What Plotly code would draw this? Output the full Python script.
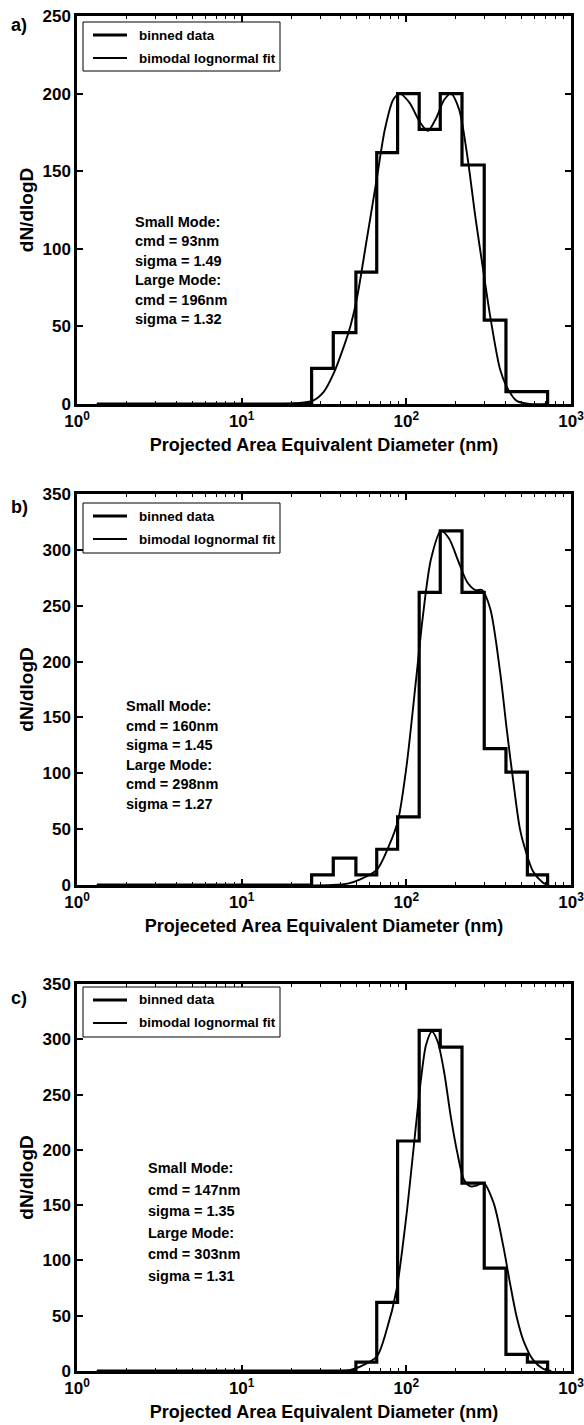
import plotly.graph_objects as go

# ---------------- data ----------------
bin_start_nm = 1.32
bin_edges_nm = [26.6, 36.0, 49.4, 66.1, 88.5, 119.7, 160.7, 217.8, 297.2, 402.7, 543.3, 721.1]

binned_a = [23, 46, 85, 162, 200, 177, 200, 154, 54, 8, 8]
binned_b = [9, 24, 9, 32, 61, 262, 317, 262, 122, 101, 9]
binned_c = [0, 0, 8, 62, 208, 308, 293, 170, 93, 15, 8]

fit_a_d = [1.32, 17.8, 21.4, 26.9, 31.6, 36.3, 41.7, 45.7, 50.1, 57.5, 66.1, 74.1, 83.2, 91.2,
           104.7, 120.2, 134.9, 151.4, 169.8, 186.2, 208.9, 234.4, 263.0, 295.1, 323.6, 371.5,
           407.4, 467.7, 562.3, 724.4]
fit_a_v = [0, 0, 0.5, 2, 8, 20, 37, 50, 68, 106, 145, 177, 196, 200,
           194, 182, 176, 184, 196, 200, 190, 160, 120, 84, 56, 22,
           11, 2, 0, 0]

fit_b_d = [1.32, 35.5, 44.7, 52.5, 66.1, 79.4, 89.1, 100.0, 114.8, 125.9, 141.3, 162.2, 182.0,
           204.2, 234.4, 263.0, 288.4, 323.6, 371.5, 407.4, 446.7, 489.8, 537.0, 588.8, 676.1, 724.4]
fit_b_v = [0, 0, 1.5, 5, 13.5, 37, 58, 105, 185, 240, 292, 317, 310,
           292, 271, 264, 264, 247, 190, 139, 92, 50, 28, 12, 2, 0]

fit_c_d = [1.32, 39.8, 45.7, 52.5, 66.1, 75.9, 87.1, 100.0, 112.2, 123.0, 131.8, 142.9, 154.9,
           169.8, 186.2, 204.2, 223.9, 245.5, 269.2, 295.1, 338.8, 389.0, 426.6, 467.7, 512.9,
           588.8, 676.1, 758.6]
fit_c_v = [0, 0, 1, 4, 13, 37, 73, 140, 210, 265, 295, 307, 298,
           270, 230, 197, 173, 167, 168, 170, 152, 112, 79, 49, 28,
           10, 2, 0]

panel_labels = ["a)", "b)", "c)"]
legend_names = ["binned data", "bimodal lognormal fit"]
y_max = [250, 350, 350]
y_title = "dN/dlogD"
x_titles = ["Projected Area Equivalent Diameter (nm)",
            "Projeceted Area Equivalent Diameter (nm)",
            "Projected Area Equivalent Diameter (nm)"]
mode_texts = [
    ["Small Mode:", "cmd = 93nm", "sigma = 1.49", "Large Mode:", "cmd = 196nm", "sigma = 1.32"],
    ["Small Mode:", "cmd = 160nm", "sigma = 1.45", "Large Mode:", "cmd = 298nm", "sigma = 1.27"],
    ["Small Mode:", "cmd = 147nm", "sigma = 1.35", "Large Mode:", "cmd = 303nm", "sigma = 1.31"],
]
x_tick_vals = [1, 10, 100, 1000]
x_tick_text = ["10<sup>0</sup>", "10<sup>1</sup>", "10<sup>2</sup>", "10<sup>3</sup>"]
x_minor_vals = [m * 10 ** k for k in range(3) for m in range(2, 10)]

binned = [binned_a, binned_b, binned_c]
fits = [(fit_a_d, fit_a_v), (fit_b_d, fit_b_v), (fit_c_d, fit_c_v)]

# ---------------- layout geometry (pixels) ----------------
W, H = 584, 1425
L, R, T, B = 77, 13, 16, 54
PW, PH = W - L - R, H - T - B
panels_px = [(16, 404), (494, 885), (984, 1371)]   # (top, bottom) of each plot box
text_left_px = [133, 124, 146]
text_top_px = [222, 706, 1168]
text_step_px = [19.4, 19.6, 21.6]
label_y_px = [25, 507, 998]
legend_box_px = [(22, 71), (503, 553), (987, 1037)]
legend_x_px = (83, 280)


def px_x(px):
    return (px - L) / PW


def px_y(py):
    return (H - B - py) / PH


FONT = "Liberation Sans"
BLACK = "black"
STEP_W, FIT_W = 3.2, 1.9
fig = go.Figure()

for i in range(3):
    suffix = "" if i == 0 else str(i + 1)
    xa, ya = "x" + suffix, "y" + suffix
    steps_x = [bin_start_nm] + bin_edges_nm
    steps_y = [0] + binned[i] + [0]
    fig.add_trace(go.Scatter(x=steps_x, y=steps_y, mode="lines", line_shape="hv",
                             line=dict(color=BLACK, width=STEP_W), name=legend_names[0],
                             xaxis=xa, yaxis=ya, showlegend=False))
    fig.add_trace(go.Scatter(x=fits[i][0], y=fits[i][1], mode="lines", line_shape="spline",
                             line=dict(color=BLACK, width=FIT_W, smoothing=0.8),
                             name=legend_names[1],
                             xaxis=xa, yaxis=ya, showlegend=False))

    top, bot = panels_px[i]
    dom = [px_y(bot), px_y(top)]
    axis_common = dict(showline=True, linecolor=BLACK, linewidth=2.5, mirror="ticks",
                       ticks="inside", tickcolor=BLACK, showgrid=False, zeroline=False,
                       automargin=False, ticklabeloverflow="allow")
    fig.update_layout(**{
        "xaxis" + suffix: dict(
            type="log", range=[0, 3], domain=[0, 1], anchor=ya,
            tickvals=x_tick_vals, ticktext=x_tick_text, ticklen=6, tickwidth=1.5,
            tickfont=dict(family=FONT, size=17, color=BLACK, weight="bold"),
            minor=dict(ticks="inside", ticklen=3, tickwidth=1.2, tickcolor=BLACK,
                       tickmode="array", tickvals=x_minor_vals),
            title=dict(text=x_titles[i], standoff=9,
                       font=dict(family=FONT, size=18, color=BLACK, weight="bold")),
            **axis_common),
        "yaxis" + suffix: dict(
            range=[0, y_max[i]], domain=dom, anchor=xa, dtick=50, ticklen=6, tickwidth=1.5,
            tickfont=dict(family=FONT, size=17, color=BLACK, weight="bold"),
            title=dict(text=y_title, standoff=4,
                       font=dict(family=FONT, size=19, color=BLACK, weight="bold")),
            **axis_common),
    })

    # legend box drawn by hand so that it sits exactly where the reference has it
    lt, lb = legend_box_px[i]
    fig.add_shape(type="rect", xref="paper", yref="paper",
                  x0=px_x(legend_x_px[0]), x1=px_x(legend_x_px[1]), y0=px_y(lb), y1=px_y(lt),
                  line=dict(color=BLACK, width=1), fillcolor="white", layer="above")
    entry_y = [lt + 13, lt + 36]
    for k, (nm, wd) in enumerate(zip(legend_names, [STEP_W, FIT_W])):
        fig.add_shape(type="line", xref="paper", yref="paper",
                      x0=px_x(93), x1=px_x(127), y0=px_y(entry_y[k]), y1=px_y(entry_y[k]),
                      line=dict(color=BLACK, width=wd), layer="above")
        fig.add_annotation(text=nm, xref="paper", yref="paper",
                           x=px_x(137), y=px_y(entry_y[k]), xanchor="left", yanchor="middle",
                           showarrow=False,
                           font=dict(family=FONT, size=13.4, color=BLACK, weight="bold"))

    for j, line in enumerate(mode_texts[i]):
        fig.add_annotation(text=line, xref="paper", yref="paper",
                           x=px_x(text_left_px[i]), y=px_y(text_top_px[i] + j * text_step_px[i]),
                           xanchor="left", yanchor="middle", showarrow=False,
                           font=dict(family=FONT, size=14.5, color=BLACK, weight="bold"))
    fig.add_annotation(text=panel_labels[i], xref="paper", yref="paper",
                       x=px_x(9), y=px_y(label_y_px[i]), xanchor="left", yanchor="middle",
                       showarrow=False,
                       font=dict(family=FONT, size=18, color=BLACK, weight="bold"))

fig.update_layout(width=W, height=H,
                  margin=dict(l=L, r=R, t=T, b=B, pad=0, autoexpand=False),
                  paper_bgcolor="white", plot_bgcolor="white", showlegend=False)

fig.write_html("out.html")
